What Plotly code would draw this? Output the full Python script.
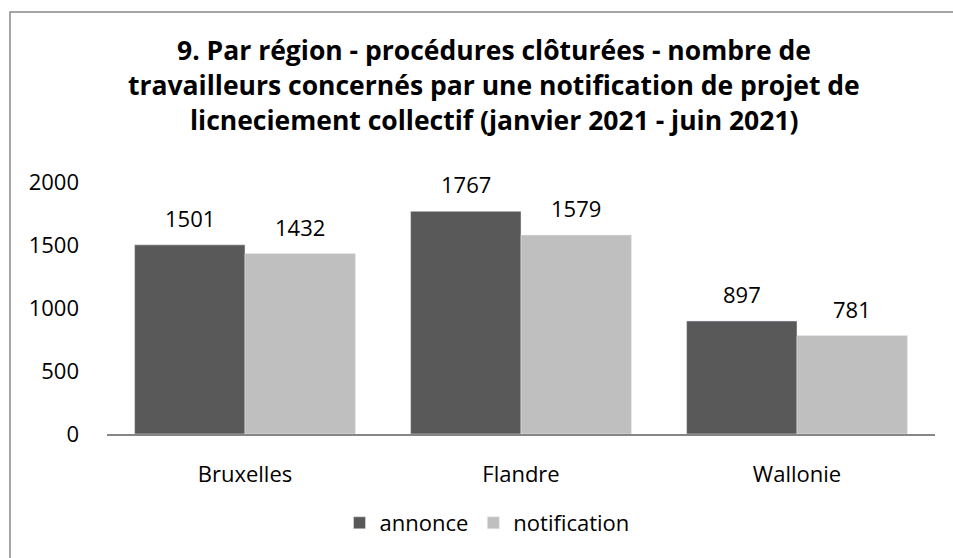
import plotly.graph_objects as go

categories = ["Bruxelles", "Flandre", "Wallonie"]
annonce = [1501, 1767, 897]
notification = [1432, 1579, 781]
y_ticks = [0, 500, 1000, 1500, 2000]
title_lines = [
    "9. Par région - procédures clôturées - nombre de",
    "travailleurs concernés par une notification de projet de",
    "licneciement collectif (janvier 2021 - juin 2021)",
]

W, H = 953, 558
L, R, T, B = 107, 18, 182, 124
pw, ph = W - L - R, H - T - B

font = "'Open Sans', sans-serif"

def px_x(p):
    return (p - L) / pw

def px_y(p):
    return (H - B - p) / ph

fig = go.Figure()
fig.add_trace(go.Bar(x=categories, y=annonce, name="annonce", marker_color="#595959"))
fig.add_trace(go.Bar(x=categories, y=notification, name="notification", marker_color="#BFBFBF"))

annotations = []
for i, line in enumerate(title_lines):
    annotations.append(dict(text="<b>" + line + "</b>", xref="paper", yref="paper",
                            x=px_x(494), y=px_y(50 + 35 * i), xanchor="center", yanchor="middle",
                            showarrow=False, font=dict(family=font, size=26.5, color="#000000")))
for vals, shift in ((annonce, -55), (notification, 55)):
    for c, v in zip(categories, vals):
        annotations.append(dict(text=str(v), x=c, y=v, xref="x", yref="y", xshift=shift,
                                yshift=27, yanchor="middle", showarrow=False,
                                font=dict(family=font, size=22, color="#000000")))

fig.update_layout(
    width=W, height=H,
    margin=dict(l=L, r=R, t=T, b=B),
    paper_bgcolor="white", plot_bgcolor="white",
    barmode="group", bargap=0.2, bargroupgap=0,
    font=dict(family=font, size=22, color="#000000"),
    xaxis=dict(showline=True, linecolor="#868686", linewidth=1.5, ticks="",
               ticklabelstandoff=20, tickfont=dict(size=22)),
    yaxis=dict(range=[0, 2000], tickvals=y_ticks, showgrid=False, showline=False,
               zeroline=False, ticks="", ticklabelstandoff=27, tickfont=dict(size=22)),
    legend=dict(orientation="h", x=px_x(487), xanchor="center", y=px_y(523), yanchor="middle",
                font=dict(size=22), traceorder="normal"),
    showlegend=True,
    annotations=annotations,
    shapes=[dict(type="rect", xref="paper", yref="paper",
                 x0=px_x(10), x1=px_x(1100), y0=px_y(700), y1=px_y(12),
                 line=dict(color="#888888", width=1.5), layer="below")],
)

fig.write_html("out.html", config={"displayModeBar": False},
               post_script="document.body.style.margin='0';")
